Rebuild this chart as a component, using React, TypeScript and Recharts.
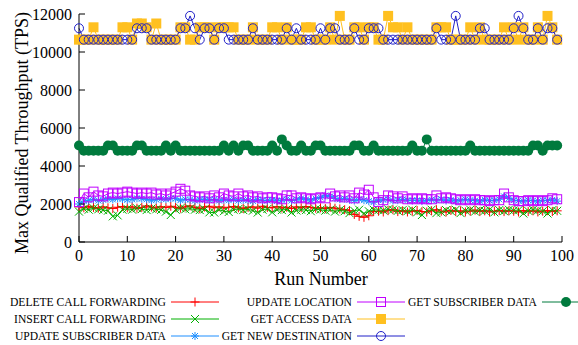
import { LineChart, Line, XAxis, YAxis, Legend } from 'recharts';

const FONT = '"Liberation Serif", "Times New Roman", serif';

const xTicks = [0, 10, 20, 30, 40, 50, 60, 70, 80, 90, 100];
const yTicks = [0, 2000, 4000, 6000, 8000, 10000, 12000];

// throughput per run (TPS), runs 0..99
const deleteCallFwd = [
    1850, 1800, 1880, 1820, 1780, 1850, 1800, 1760, 1830, 1870,
    1800, 1850, 1780, 1820, 1900, 1840, 1790, 1860, 1810, 1880,
    1830, 1780, 1850, 1900, 1820, 1760, 1840, 1880, 1800, 1850,
    1790, 1830, 1870, 1800, 1760, 1820, 1850, 1780, 1880, 1820,
    1800, 1860, 1790, 1830, 1760, 1850, 1800, 1870, 1820, 1780,
    1800, 1760, 1820, 1780, 1740, 1700, 1650, 1450, 1350, 1300,
    1380, 1600, 1620, 1580, 1650, 1700, 1600, 1640, 1580, 1620,
    1660, 1600, 1580, 1640, 1700, 1620, 1580, 1660, 1600, 1640,
    1580, 1620, 1680, 1600, 1640, 1580, 1620, 1660, 1600, 1640,
    1620, 1580, 1660, 1600, 1640, 1580, 1620, 1660, 1600, 1640,
];

const insertCallFwd = [
    1600, 1750, 1700, 1780, 1720, 1680, 1650, 1350, 1400, 1700,
    1750, 1700, 1780, 1730, 1680, 1760, 1720, 1690, 1600, 1420,
    1700, 1780, 1720, 1760, 1700, 1680, 1720, 1560, 1550, 1700,
    1620, 1580, 1700, 1740, 1680, 1720, 1650, 1550, 1700, 1740,
    1560, 1700, 1680, 1720, 1550, 1660, 1700, 1680, 1620, 1720,
    1700, 1650, 1700, 1600, 1680, 1620, 1520, 1640, 1700, 1500,
    1620, 1700, 1680, 1660, 1720, 1700, 1640, 1680, 1620, 1700,
    1560, 1420, 1650, 1700, 1520, 1560, 1680, 1620, 1700, 1520,
    1650, 1700, 1600, 1680, 1640, 1700, 1560, 1680, 1620, 1700,
    1660, 1680, 1500, 1640, 1700, 1660, 1620, 1500, 1680, 1640,
];

const updateSubscriber = [
    2000, 2150, 2200, 2250, 2180, 2220, 2280, 2240, 2300, 2260,
    2220, 2250, 2300, 2280, 2250, 2200, 2230, 2270, 2250, 2300,
    2280, 2200, 2250, 2230, 2180, 2220, 2260, 2200, 2240, 2180,
    2230, 2200, 2250, 2180, 2220, 2200, 2160, 2240, 2200, 2180,
    2220, 2160, 2200, 2250, 2180, 2220, 2300, 2240, 2200, 2280,
    2350, 2450, 2400, 2300, 2250, 2280, 2220, 2180, 2250, 2200,
    2150, 2100, 2200, 2220, 2250, 2180, 2200, 2250, 2200, 2180,
    2200, 2150, 2180, 2220, 2200, 2250, 2180, 2220, 2150, 2200,
    2250, 2200, 2180, 2150, 2220, 2180, 2200, 2250, 2400, 2300,
    2200, 2180, 2150, 2200, 2180, 2150, 2200, 2180, 2220, 2150,
];

const updateLocation = [
    2100, 2550, 2350, 2650, 2450, 2400, 2550, 2600, 2550, 2600,
    2650, 2600, 2550, 2600, 2550, 2600, 2500, 2550, 2450, 2550,
    2650, 2800, 2700, 2450, 2400, 2350, 2400, 2300, 2450, 2350,
    2550, 2450, 2400, 2550, 2400, 2450, 2350, 2400, 2300, 2350,
    2350, 2300, 2250, 2450, 2450, 2300, 2350, 2300, 2250, 2300,
    2350, 2300, 2550, 2400, 2450, 2350, 2450, 2300, 2600, 2500,
    2750, 2350, 2100, 2200, 2450, 2400, 2300, 2400, 2250, 2300,
    2250, 2300, 2250, 2250, 2450, 2300, 2350, 2300, 2250, 2200,
    2250, 2200, 2250, 2200, 2200, 2150, 2200, 2200, 2550, 2350,
    2200, 2150, 2150, 2200, 2150, 2200, 2150, 2200, 2300, 2250,
];

const getAccess = [
    10650, 10650, 10650, 11300, 10650, 10650, 10650, 10650, 10650, 11300,
    11300, 10650, 11500, 11500, 11300, 10650, 11500, 10650, 10650, 10650,
    10650, 11300, 11300, 10650, 10650, 11300, 11300, 11300, 10650, 11300,
    11300, 11300, 11300, 10650, 10650, 10650, 11300, 10650, 10650, 10650,
    11300, 11300, 10650, 11300, 10650, 10650, 10650, 11300, 11300, 10650,
    10650, 10650, 11300, 10650, 11900, 10650, 10650, 11300, 11300, 10650,
    11300, 11300, 10650, 10650, 11900, 11300, 11300, 10650, 11300, 10650,
    10650, 10650, 10650, 10650, 11300, 11300, 11300, 10650, 10650, 10650,
    10650, 11300, 10650, 11300, 10650, 10650, 10650, 10650, 11300, 10650,
    11300, 10650, 11300, 10650, 10650, 11300, 10650, 11900, 11300, 10650,
];

const getNewDest = [
    11250, 10650, 10650, 10650, 10650, 10650, 10650, 10650, 10650, 10650,
    10650, 10650, 11250, 11250, 11250, 10650, 10650, 10650, 10650, 10650,
    10650, 11250, 11250, 11900, 11250, 10650, 11250, 11250, 10650, 11250,
    11250, 10650, 10650, 10650, 10650, 10650, 11250, 10650, 10650, 10650,
    10650, 10650, 10650, 11250, 10650, 11250, 10650, 10650, 10650, 10650,
    11250, 10650, 11250, 11250, 10650, 10650, 10650, 11250, 10650, 10650,
    11250, 11250, 11250, 10650, 10650, 10650, 10650, 10650, 10650, 10650,
    10650, 10650, 10650, 10650, 11250, 10650, 10650, 10650, 11900, 10650,
    10650, 10650, 10650, 11250, 11250, 10650, 10650, 10650, 10650, 10650,
    11250, 11900, 11250, 10650, 10650, 11250, 10650, 11250, 11250, 10650,
];

const getSubscriber = [
    5080, 4800, 4800, 4800, 4800, 4800, 5080, 5080, 4800, 4800,
    4800, 4800, 5080, 5080, 4800, 4800, 4800, 4800, 5080, 4800,
    5080, 4800, 4800, 4800, 4800, 4800, 4800, 4800, 4800, 4800,
    5080, 4800, 5080, 4800, 5080, 5080, 4800, 4800, 4800, 4800,
    5080, 4800, 5400, 5080, 4800, 4800, 5080, 4800, 4800, 5080,
    5080, 4800, 4800, 4800, 4800, 4800, 4800, 5080, 5080, 4800,
    4800, 5080, 4800, 4800, 4800, 4800, 4800, 4800, 4800, 5080,
    4800, 4800, 5400, 4800, 4800, 4800, 4800, 4800, 4800, 4800,
    4800, 5080, 4800, 4800, 4800, 4800, 4800, 4800, 4800, 4800,
    4800, 4800, 4800, 4800, 5080, 5080, 4800, 5080, 5080, 5080,
];

type Marker = 'plus' | 'cross' | 'star' | 'openSquare' | 'filledSquare' | 'openCircle' | 'filledCircle';

interface SeriesDef {
    key: string;
    name: string;
    color: string;
    marker: Marker;
    values: number[];
    col: number;
    row: number;
}

const seriesList: SeriesDef[] = [
    { key: 'deleteCallFwd', name: 'DELETE CALL FORWARDING', color: '#ff0000', marker: 'plus', values: deleteCallFwd, col: 0, row: 0 },
    { key: 'insertCallFwd', name: 'INSERT CALL FORWARDING', color: '#00b000', marker: 'cross', values: insertCallFwd, col: 0, row: 1 },
    { key: 'updateSubscriber', name: 'UPDATE SUBSCRIBER DATA', color: '#1e8fff', marker: 'star', values: updateSubscriber, col: 0, row: 2 },
    { key: 'updateLocation', name: 'UPDATE LOCATION', color: '#c000ff', marker: 'openSquare', values: updateLocation, col: 1, row: 0 },
    { key: 'getAccess', name: 'GET ACCESS DATA', color: '#ffc020', marker: 'filledSquare', values: getAccess, col: 1, row: 1 },
    { key: 'getNewDest', name: 'GET NEW DESTINATION', color: '#2020c8', marker: 'openCircle', values: getNewDest, col: 1, row: 2 },
    { key: 'getSubscriber', name: 'GET SUBSCRIBER DATA', color: '#007a3d', marker: 'filledCircle', values: getSubscriber, col: 2, row: 0 },
];

const data = deleteCallFwd.map((_, i) => {
    const row: Record<string, number> = { run: i };
    seriesList.forEach(s => { row[s.key] = s.values[i]; });
    return row;
});

const drawMarker = (marker: Marker, color: string, cx: number, cy: number) => {
    switch (marker) {
        case 'plus':
            return (
                <g stroke={color} strokeWidth={1}>
                    <line x1={cx - 4.5} x2={cx + 4.5} y1={cy} y2={cy} />
                    <line x1={cx} x2={cx} y1={cy - 4.5} y2={cy + 4.5} />
                </g>
            );
        case 'cross':
            return (
                <g stroke={color} strokeWidth={1}>
                    <line x1={cx - 4} x2={cx + 4} y1={cy - 4} y2={cy + 4} />
                    <line x1={cx - 4} x2={cx + 4} y1={cy + 4} y2={cy - 4} />
                </g>
            );
        case 'star':
            return (
                <g stroke={color} strokeWidth={1}>
                    <line x1={cx - 4} x2={cx + 4} y1={cy} y2={cy} />
                    <line x1={cx} x2={cx} y1={cy - 4} y2={cy + 4} />
                    <line x1={cx - 3} x2={cx + 3} y1={cy - 3} y2={cy + 3} />
                    <line x1={cx - 3} x2={cx + 3} y1={cy + 3} y2={cy - 3} />
                </g>
            );
        case 'openSquare':
            return <rect x={cx - 4.5} y={cy - 4.5} width={9} height={9} fill="none" stroke={color} strokeWidth={1} />;
        case 'filledSquare':
            return <rect x={cx - 5} y={cy - 5} width={10} height={10} fill={color} stroke="none" />;
        case 'openCircle':
            return <circle cx={cx} cy={cy} r={4.5} fill="none" stroke={color} strokeWidth={1} />;
        case 'filledCircle':
            return <circle cx={cx} cy={cy} r={5} fill={color} stroke="none" />;
    }
};

const makeDot = (s: SeriesDef) => (props: any) => {
    const { cx, cy, index } = props;
    if (cx == null || cy == null) return <g key={`${s.key}-${index}`} />;
    return <g key={`${s.key}-${index}`}>{drawMarker(s.marker, s.color, cx, cy)}</g>;
};

const TICK_MARGIN = 7;

const LeftTick = ({ x, y, payload }: any) => (
    <g>
        <line x1={x + TICK_MARGIN} x2={x + TICK_MARGIN + 6} y1={y} y2={y} stroke="#000" />
        <text x={x} y={y} dy="0.35em" textAnchor="end" fontSize={16} fontFamily={FONT} fill="#000">
            {payload.value}
        </text>
    </g>
);

const BottomTick = ({ x, y, payload }: any) => (
    <g>
        <line x1={x} x2={x} y1={y - TICK_MARGIN} y2={y - TICK_MARGIN - 6} stroke="#000" />
        <text x={x} y={y} dy="0.75em" textAnchor="middle" fontSize={16} fontFamily={FONT} fill="#000">
            {payload.value}
        </text>
    </g>
);

const TopTick = ({ x, y }: any) => <line x1={x} x2={x} y1={y} y2={y + 6} stroke="#000" />;

const RightTick = ({ x, y }: any) => <line x1={x} x2={x - 6} y1={y} y2={y} stroke="#000" />;

const YTitle = () => (
    <text transform="translate(22,133) rotate(-90)" textAnchor="middle" dominantBaseline="central"
        fontSize={18} fontFamily={FONT} fill="#000">
        Max Qualified Throughput (TPS)
    </text>
);

const XTitle = () => (
    <text x={321} y={279} textAnchor="middle" dominantBaseline="central" fontSize={18} fontFamily={FONT} fill="#000">
        Run Number
    </text>
);

// legend grid: right edge of each column's text, centre of each row
const colTextRight = [166, 352, 537];
const rowCenter = [302, 319, 336];
const SAMPLE_LEN = 48;

const LegendBox = () => (
    <div style={{ position: 'relative', width: 578, height: 345 }}>
        {seriesList.map(s => (
            <div key={s.key} style={{
                position: 'absolute',
                left: 0,
                width: colTextRight[s.col] + 5 + SAMPLE_LEN,
                top: rowCenter[s.row] - 8,
                height: 16,
                display: 'flex',
                justifyContent: 'flex-end',
                alignItems: 'center',
                fontFamily: FONT,
                fontSize: 11.6,
                color: '#000',
                whiteSpace: 'nowrap',
            }}>
                <span>{s.name}</span>
                <svg width={SAMPLE_LEN} height={14} style={{ marginLeft: 5, overflow: 'visible' }}>
                    <line x1={0} x2={SAMPLE_LEN} y1={7} y2={7} stroke={s.color} strokeWidth={1} />
                    {drawMarker(s.marker, s.color, SAMPLE_LEN / 2, 7)}
                </svg>
            </div>
        ))}
    </div>
);

const App = () => (
    <div style={{ position: 'absolute', left: 0, top: 0, width: 578, height: 345, background: '#fff', overflow: 'hidden' }}>
        <LineChart
            width={578}
            height={345}
            data={data}
            margin={{ top: 14, right: 16, left: 8, bottom: 73 }}
        >
            <XAxis
                dataKey="run"
                type="number"
                domain={[0, 100]}
                ticks={xTicks}
                height={30}
                stroke="#000"
                tickSize={0}
                tickMargin={TICK_MARGIN}
                tick={<BottomTick />}
                label={<XTitle />}
            />
            <XAxis
                xAxisId="top"
                dataKey="run"
                type="number"
                orientation="top"
                domain={[0, 100]}
                ticks={xTicks}
                height={0}
                stroke="#000"
                tickSize={0}
                tickMargin={0}
                tick={<TopTick />}
            />
            <YAxis
                type="number"
                domain={[0, 12000]}
                ticks={yTicks}
                width={71}
                stroke="#000"
                tickSize={0}
                tickMargin={TICK_MARGIN}
                tick={<LeftTick />}
                label={<YTitle />}
            />
            <YAxis
                yAxisId="right"
                type="number"
                orientation="right"
                domain={[0, 12000]}
                ticks={yTicks}
                width={0}
                stroke="#000"
                tickSize={0}
                tickMargin={0}
                tick={<RightTick />}
            />
            <Legend
                layout="vertical"
                align="center"
                verticalAlign="middle"
                wrapperStyle={{ left: 0, top: 0, width: 578, height: 345, pointerEvents: 'none' }}
                content={() => <LegendBox />}
            />
            {seriesList.map(s => (
                <Line
                    key={s.key}
                    type="linear"
                    dataKey={s.key}
                    name={s.name}
                    stroke={s.color}
                    strokeWidth={1}
                    dot={makeDot(s)}
                    activeDot={false}
                    isAnimationActive={false}
                />
            ))}
        </LineChart>
    </div>
);

export default App;
